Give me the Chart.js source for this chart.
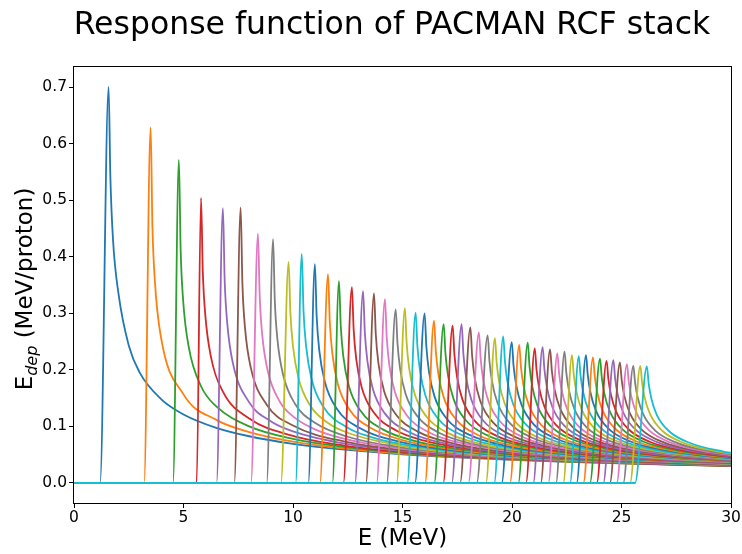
<!DOCTYPE html>
<html><head><meta charset="utf-8">
<script src="https://cdn.jsdelivr.net/npm/chart.js@4.4.1/dist/chart.umd.min.js"></script>
<style>html,body{margin:0;padding:0;background:#fff;}#wrap{width:742px;height:554px;position:relative;}</style>
</head><body><div id="wrap"><canvas id="c" width="742" height="554"></canvas></div>
<script>
const colors = ['#1f77b4','#ff7f0e','#2ca02c','#d62728','#9467bd','#8c564b','#e377c2','#7f7f7f','#bcbd22','#17becf'];

const onsetE = [1.19,3.20,4.52,5.60,6.51,7.32,8.08,8.80,9.45,10.12,
  10.70,11.23,11.80,12.30,12.83,13.33,13.82,14.28,14.73,15.22,
  15.57,16.03,16.45,16.86,17.25,17.63,18.01,18.39,18.81,19.19,
  19.53,19.91,20.29,20.64,20.97,21.31,21.66,22.01,22.34,22.65,
  22.95,23.26,23.56,23.87,24.17,24.47,24.78,25.08,25.39,25.62];
const peakE = [1.58,3.50,4.79,5.80,6.80,7.61,8.40,9.09,9.80,10.40,
  11.00,11.60,12.10,12.69,13.20,13.70,14.20,14.69,15.11,15.60,
  16.01,16.44,16.88,17.29,17.70,18.10,18.49,18.89,19.22,19.60,
  19.99,20.33,20.72,21.04,21.40,21.74,22.07,22.40,22.74,23.05,
  23.38,23.70,24.02,24.32,24.63,24.93,25.25,25.54,25.86,26.16];
const peakV = [0.700,0.629,0.571,0.504,0.486,0.487,0.441,0.431,0.391,0.405,
  0.387,0.369,0.357,0.346,0.339,0.335,0.325,0.307,0.309,0.301,
  0.300,0.287,0.281,0.278,0.281,0.275,0.266,0.261,0.256,0.259,
  0.249,0.244,0.248,0.238,0.240,0.236,0.229,0.232,0.226,0.224,
  0.226,0.222,0.220,0.216,0.217,0.213,0.210,0.207,0.207,0.206];

const tailE = [
 [1.66,1.78,2.03,2.5,3,4,5,6.5,8,10,12.5,15,17.5,20,22.5,25,27.5,30],
 [3.58,3.7,3.95,5,6.5,8,10,12.5,15,17.5,20,22.5,25,27.5,30],
 [4.87,4.99,5.24,5.8,6.5,8,10,12.5,15,17.5,20,22.5,25,27.5,30],
 [5.88,6.0,6.25,6.8,8,10,12.5,15,17.5,20,22.5,25,27.5,30],
 [6.88,7.0,7.25,8,9,10,12.5,15,17.5,20,22.5,25,27.5,30],
 [7.69,7.81,8.06,8.8,10,12.5,15,17.5,20,22.5,25,27.5,30],
 [8.48,8.6,8.85,9.4,10,11,12.5,15,17.5,20,22.5,25,27.5,30],
 [9.17,9.29,9.54,10.09,11,12.5,15,17.5,20,22.5,25,27.5,30],
 [9.88,10.0,10.25,10.8,11.6,12.5,15,17.5,20,22.5,25,27.5,30],
 [10.48,10.6,10.85,11.4,12.5,13.5,15,17.5,20,22.5,25,27.5,30],
 [11.08,11.2,11.45,12.0,13.0,15,17.5,20,22.5,25,27.5,30],
 [11.68,11.8,12.05,12.6,13.6,15,17.5,20,22.5,25,27.5,30],
 [12.18,12.3,12.55,13.1,14.1,15.5,17.5,20,22.5,25,27.5,30],
 [12.77,12.89,13.14,13.69,14.69,16,17.5,20,22.5,25,27.5,30],
 [13.28,13.4,13.65,14.2,15.2,17.5,20,22.5,25,27.5,30],
 [13.78,13.9,14.15,14.7,15.7,17.5,20,22.5,25,27.5,30],
 [14.28,14.4,14.65,15.2,16.2,17.5,20,22.5,25,27.5,30],
 [14.77,14.89,15.14,15.69,16.69,18.2,20,22.5,25,27.5,30],
 [15.19,15.31,15.56,16.11,17.11,18.6,20,22.5,25,27.5,30],
 [15.68,15.8,16.05,16.6,17.6,20,22.5,25,27.5,30],
 [16.09,16.21,16.46,17.01,18.01,20,22.5,25,27.5,30],
 [16.52,16.64,16.89,17.44,18.44,20,22.5,25,27.5,30],
 [16.96,17.08,17.33,17.88,18.88,20,22.5,25,27.5,30],
 [17.37,17.49,17.74,18.29,19.29,20.79,22.5,25,27.5,30],
 [17.78,17.9,18.15,18.7,19.7,21.2,22.5,25,27.5,30],
 [18.18,18.3,18.55,19.1,20.1,21.6,22.5,25,27.5,30],
 [18.57,18.69,18.94,19.49,20.49,21.99,25,27.5,30],
 [18.97,19.09,19.34,19.89,20.89,22.5,25,27.5,30],
 [19.30,19.42,19.67,20.22,21.22,22.5,25,27.5,30],
 [19.68,19.8,20.05,20.6,21.6,23.1,25,27.5,30],
 [20.07,20.19,20.44,20.99,21.99,23.49,25,27.5,30],
 [20.41,20.53,20.78,21.33,22.33,23.83,25.5,27.5,30],
 [20.80,20.92,21.17,21.72,22.72,24.22,25.8,27.5,30],
 [21.12,21.24,21.49,22.04,23.04,24.54,26,27.5,30],
 [21.48,21.6,21.85,22.4,23.4,24.9,27.5,30],
 [21.82,21.94,22.19,22.74,23.74,25.24,27.5,30],
 [22.15,22.27,22.52,23.07,24.07,25.57,27.5,30],
 [22.48,22.6,22.85,23.4,24.4,25.9,27.5,30],
 [22.82,22.94,23.19,23.74,24.74,26.24,27.5,30],
 [23.13,23.25,23.5,24.05,25.05,26.55,27.5,30],
 [23.46,23.58,23.83,24.38,25.38,26.88,28.4,30],
 [23.78,23.9,24.15,24.7,25.7,27.2,28.6,30],
 [24.10,24.22,24.47,25.02,26.02,27.52,28.8,30],
 [24.40,24.52,24.77,25.32,26.32,27.82,29,30],
 [24.71,24.83,25.08,25.63,26.63,28.13,30],
 [25.01,25.13,25.38,25.93,26.93,28.43,30],
 [25.33,25.45,25.70,26.25,27.25,28.75,30],
 [25.62,25.74,25.99,26.54,27.54,29.04,30],
 [25.94,26.06,26.31,26.86,27.86,29.36,30],
 [26.24,26.36,26.61,27.16,28.16,29.66,30]
];
const tailV = [
 [.542,.431,.335,.243,.195,.1474,.1212,.0975,.0826,.0693,.0584,.0508,.0452,.0408,.0373,.0345,.0321,.0300],
 [.4545,.3533,.2621,.1566,.1116,.0900,.0732,.0605,.0520,.0460,.0414,.0377,.0348,.0323,.0302],
 [.4112,.3195,.2402,.171,.1353,.1000,.0779,.0628,.0534,.0468,.0420,.0382,.0351,.0325,.0304],
 [.3749,.2950,.2236,.1614,.1139,.0833,.0653,.0548,.0477,.0425,.0386,.0354,.0327,.0306],
 [.3585,.2812,.2128,.1425,.1089,.0914,.0686,.0565,.0488,.0433,.0391,.0357,.0330,.0308],
 [.3518,.2737,.2061,.1384,.1016,.0721,.0583,.0499,.0440,.0395,.0361,.0333,.0310],
 [.3296,.2600,.1976,.1437,.1177,.0948,.0765,.0604,.0510,.0447,.0400,.0365,.0336,.0312],
 [.3216,.2535,.1926,.1401,.1063,.0817,.0626,.0522,.0454,.0406,.0368,.0338,.0314],
 [.3019,.2417,.1855,.1360,.1062,.0888,.0653,.0536,.0463,.0411,.0372,.0341,.0316],
 [.3046,.2410,.1835,.1340,.0977,.0820,.0682,.0551,.0472,.0417,.0376,.0344,.0318],
 [.2948,.2345,.1793,.1312,.0979,.0716,.0567,.0481,.0423,.0380,.0347,.0320],
 [.2849,.2277,.1746,.1286,.0962,.0759,.0586,.0491,.0429,.0385,.0350,.0323],
 [.2779,.2230,.1715,.1266,.0948,.0749,.0603,.0501,.0435,.0389,.0353,.0325],
 [.2711,.2183,.1683,.1244,.0932,.0747,.0628,.0514,.0443,.0393,.0356,.0327],
 [.2663,.2147,.1658,.1226,.0920,.0654,.0526,.0450,.0399,.0360,.0330],
 [.2630,.2120,.1637,.1211,.0908,.0684,.0540,.0458,.0404,.0363,.0332],
 [.2571,.2081,.1611,.1194,.0897,.0721,.0556,.0467,.0409,.0367,.0335],
 [.2474,.2023,.1577,.1174,.0884,.0692,.0573,.0476,.0415,.0371,.0338],
 [.2473,.2014,.1567,.1165,.0877,.0688,.0590,.0485,.0420,.0375,.0340],
 [.2422,.1980,.1543,.1150,.0866,.0613,.0496,.0427,.0379,.0344],
 [.2408,.1966,.1531,.1140,.0859,.0635,.0507,.0433,.0383,.0347],
 [.2336,.1922,.1505,.1125,.0849,.0662,.0519,.0440,.0388,.0349],
 [.2296,.1894,.1487,.1113,.0841,.0696,.0533,.0448,.0392,.0353],
 [.2273,.1876,.1473,.1103,.0833,.0655,.0547,.0455,.0397,.0356],
 [.2280,.1874,.1466,.1095,.0827,.0651,.0565,.0464,.0402,.0360],
 [.2244,.1849,.1450,.1085,.0820,.0645,.0582,.0473,.0408,.0363],
 [.2190,.1815,.1430,.1073,.0812,.0639,.0483,.0414,.0367],
 [.2157,.1792,.1415,.1063,.0805,.0626,.0494,.0420,.0371],
 [.2126,.1771,.1401,.1055,.0799,.0648,.0503,.0425,.0374],
 [.2136,.1771,.1397,.1049,.0795,.0626,.0516,.0432,.0378],
 [.2077,.1735,.1376,.1037,.0787,.0620,.0529,.0439,.0383],
 [.2044,.1713,.1362,.1029,.0781,.0616,.0519,.0446,.0387],
 [.2061,.1718,.1359,.1024,.0777,.0612,.0519,.0455,.0392],
 [.2002,.1681,.1339,.1013,.0771,.0608,.0521,.0462,.0396],
 [.2008,.1682,.1335,.1008,.0766,.0604,.0472,.0402],
 [.1982,.1663,.1324,.1001,.0761,.0601,.0481,.0408],
 [.1938,.1635,.1307,.0991,.0755,.0597,.0491,.0413],
 [.1951,.1639,.1306,.0988,.0752,.0594,.0503,.0419],
 [.1913,.1614,.1291,.0979,.0746,.0590,.0515,.0426],
 [.1898,.1603,.1282,.0973,.0742,.0587,.0528,.0432],
 [.1906,.1604,.1280,.0970,.0738,.0584,.0498,.0439],
 [.1880,.1586,.1269,.0963,.0734,.0580,.0501,.0447],
 [.1865,.1575,.1260,.0957,.0729,.0577,.0504,.0455],
 [.1838,.1557,.1249,.0950,.0725,.0573,.0505,.0463],
 [.1841,.1556,.1246,.0946,.0722,.0571,.0473],
 [.1815,.1539,.1235,.0940,.0717,.0568,.0483],
 [.1794,.1524,.1225,.0933,.0713,.0564,.0494],
 [.1774,.1510,.1216,.0927,.0709,.0561,.0505],
 [.1771,.1505,.1211,.0923,.0706,.0559,.0520],
 [.1761,.1498,.1205,.0919,.0702,.0556,.0534]
];

const xTicks = [0,5,10,15,20,25,30];
const yTicks = [0,0.1,0.2,0.3,0.4,0.5,0.6,0.7];
const titleText = 'Response function of PACMAN RCF stack';
const xLabelText = 'E (MeV)';
const yLabelMain = 'E', yLabelSub = 'dep', yLabelRest = ' (MeV/proton)';

const FONT = '"DejaVu Sans", "Liberation Sans", sans-serif';

const datasets = peakE.map((p, i) => {
  const pts = [{x: 0, y: 0}, {x: onsetE[i], y: 0}, {x: p, y: peakV[i]}];
  tailE[i].forEach((e, j) => pts.push({x: e, y: tailV[i][j]}));
  return {
    data: pts,
    borderColor: colors[i % 10],
    backgroundColor: colors[i % 10],
    borderWidth: 1.8,
    pointRadius: 0,
    fill: false,
    cubicInterpolationMode: 'monotone',
    order: peakE.length - i
  };
});

const decor = {
  id: 'decor',
  afterDraw(chart) {
    const ctx = chart.ctx, a = chart.chartArea;
    ctx.save();
    ctx.strokeStyle = '#000';
    ctx.lineWidth = 1;
    ctx.strokeRect(Math.round(a.left) - 0.5, Math.round(a.top) - 0.5,
                   Math.round(a.right - a.left) + 1, Math.round(a.bottom - a.top) + 1);
    ctx.fillStyle = '#000';
    ctx.textBaseline = 'alphabetic';
    // title
    ctx.font = '31.5px ' + FONT;
    ctx.textAlign = 'center';
    ctx.fillText(titleText, 392, 34);
    // x label
    ctx.font = '23px ' + FONT;
    ctx.fillText(xLabelText, (a.left + a.right) / 2, 545);
    // y label
    ctx.textAlign = 'left';
    ctx.font = '23px ' + FONT;
    const wE = ctx.measureText(yLabelMain).width;
    const wR = ctx.measureText(yLabelRest).width;
    ctx.font = 'italic 16px ' + FONT;
    const wS = ctx.measureText(yLabelSub).width;
    const total = wE + wS + wR;
    ctx.translate(32, 289);
    ctx.rotate(-Math.PI / 2);
    let x0 = -total / 2;
    ctx.font = '23px ' + FONT;
    ctx.fillText(yLabelMain, x0, 0);
    ctx.font = 'italic 16px ' + FONT;
    ctx.fillText(yLabelSub, x0 + wE, 5);
    ctx.font = '23px ' + FONT;
    ctx.fillText(yLabelRest, x0 + wE + wS, 0);
    ctx.restore();
  }
};

new Chart(document.getElementById('c'), {
  type: 'line',
  data: { datasets },
  options: {
    responsive: false,
    animation: false,
    devicePixelRatio: 1,
    layout: { padding: { left: 0, right: 11, top: 67, bottom: 0 } },
    plugins: { legend: { display: false }, tooltip: { enabled: false }, title: { display: false } },
    scales: {
      x: {
        type: 'linear', min: 0, max: 30,
        afterBuildTicks: s => { s.ticks = xTicks.map(v => ({ value: v })); },
        afterFit: s => { s.height = 51; },
        ticks: { font: { family: FONT, size: 15.5 }, color: '#000', padding: 1, maxRotation: 0, autoSkip: false,
                 callback: v => String(v) },
        grid: { display: true, drawOnChartArea: false, drawTicks: true, tickLength: 5, tickColor: '#000', tickWidth: 1 },
        border: { display: false }
      },
      y: {
        type: 'linear', min: -0.0354, max: 0.7354,
        afterBuildTicks: s => { s.ticks = yTicks.map(v => ({ value: v })); },
        afterFit: s => { s.width = 74; },
        ticks: { font: { family: FONT, size: 15.5 }, color: '#000', padding: 2, autoSkip: false,
                 callback: v => Number(v).toFixed(1) },
        grid: { display: true, drawOnChartArea: false, drawTicks: true, tickLength: 5, tickColor: '#000', tickWidth: 1 },
        border: { display: false }
      }
    }
  },
  plugins: [decor]
});
</script></body></html>
